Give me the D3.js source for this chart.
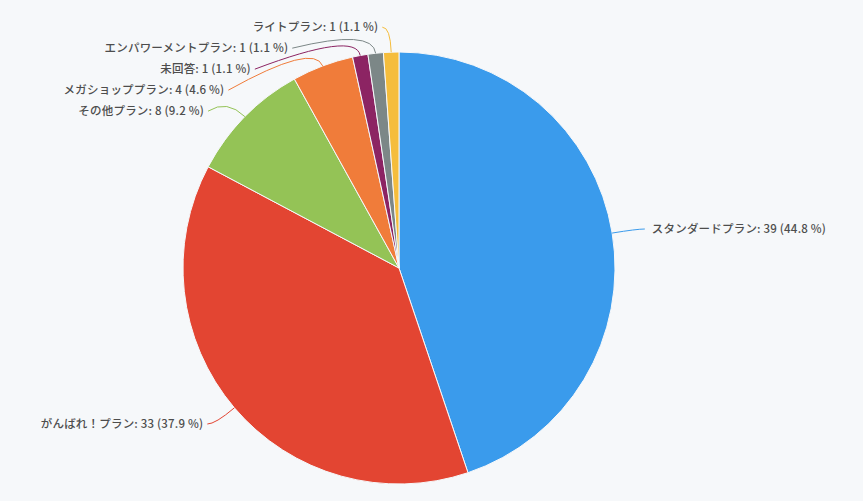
<!DOCTYPE html>
<html>
<head>
<meta charset="utf-8">
<script src="https://cdn.jsdelivr.net/npm/d3@7"></script>
<style>
  html, body { margin: 0; padding: 0; background: #f6f8fa; }
  svg { display: block; }
  text { font-family: "Noto Sans CJK JP", "Noto Sans", sans-serif; font-size: 11.5px; font-weight: 500; letter-spacing: 0.2px; fill: #4d4d4d; }
</style>
</head>
<body>
<svg id="svg" width="863" height="501"></svg>
<script>
var plans = ["スタンダードプラン", "がんばれ！プラン", "その他プラン", "メガショッププラン", "未回答", "エンパワーメントプラン", "ライトプラン"];
var counts = [39, 33, 8, 4, 1, 1, 1];
var colors = ["#3a9bec", "#e34532", "#94c356", "#f07c3a", "#8c2463", "#7c8787", "#f5bd3c"];

var svg = d3.select("#svg");
var center = { x: 399, y: 268 };
var radius = 216;
var len1 = 25, len2 = 8, lineGap = 21;
var total = d3.sum(counts);

var data = plans.map(function (p, i) {
  return { name: p, value: counts[i], color: colors[i] };
});

var pie = d3.pie().sort(null).value(function (d) { return d.value; });
var arc = d3.arc().innerRadius(0).outerRadius(radius);
var arcs = pie(data);

var g = svg.append("g").attr("transform", "translate(" + center.x + "," + center.y + ")");

g.selectAll("path.slice")
  .data(arcs)
  .enter()
  .append("path")
  .attr("class", "slice")
  .attr("d", arc)
  .attr("fill", function (d) { return d.data.color; })
  .attr("stroke", "#f6f8fa")
  .attr("stroke-width", 1);

// label layout
var R = radius + len1;
var labels = arcs.map(function (d) {
  var a = (d.startAngle + d.endAngle) / 2;
  var sx = Math.sin(a), sy = -Math.cos(a);
  return {
    d: d,
    left: sx < 0,
    edge: [radius * sx, radius * sy],
    p1: [R * sx, R * sy],
    y: R * sy
  };
});

function spread(list) {
  list.sort(function (a, b) { return a.y - b.y; });
  for (var i = 1; i < list.length; i++) {
    if (list[i].y < list[i - 1].y + lineGap) list[i].y = list[i - 1].y + lineGap;
  }
}
spread(labels.filter(function (l) { return l.left; }));
spread(labels.filter(function (l) { return !l.left; }));

labels.forEach(function (l) {
  var dx = Math.sqrt(Math.max(0, R * R - l.y * l.y));
  var x = l.left ? -dx : dx;
  if (Math.abs(l.y - l.p1[1]) < 0.01) x = l.p1[0];
  l.p2 = [x + (l.left ? -len2 : len2), l.y];
});

g.selectAll("path.leader")
  .data(labels)
  .enter()
  .append("path")
  .attr("class", "leader")
  .attr("fill", "none")
  .attr("stroke", function (l) { return l.d.data.color; })
  .attr("stroke-width", 1)
  .attr("d", function (l) {
    return "M" + l.edge[0] + "," + l.edge[1] +
      "Q" + l.p1[0] + "," + l.p1[1] + " " + l.p2[0] + "," + l.p2[1];
  });

g.selectAll("text.label")
  .data(labels)
  .enter()
  .append("text")
  .attr("class", "label")
  .attr("x", function (l) { return l.p2[0] + (l.left ? -4 : 7); })
  .attr("y", function (l) { return l.p2[1]; })
  .attr("dy", "0.35em")
  .attr("text-anchor", function (l) { return l.left ? "end" : "start"; })
  .text(function (l) {
    var v = l.d.data.value;
    return l.d.data.name + ": " + v + " (" + (v / total * 100).toFixed(1) + " %)";
  });
</script>
</body>
</html>
